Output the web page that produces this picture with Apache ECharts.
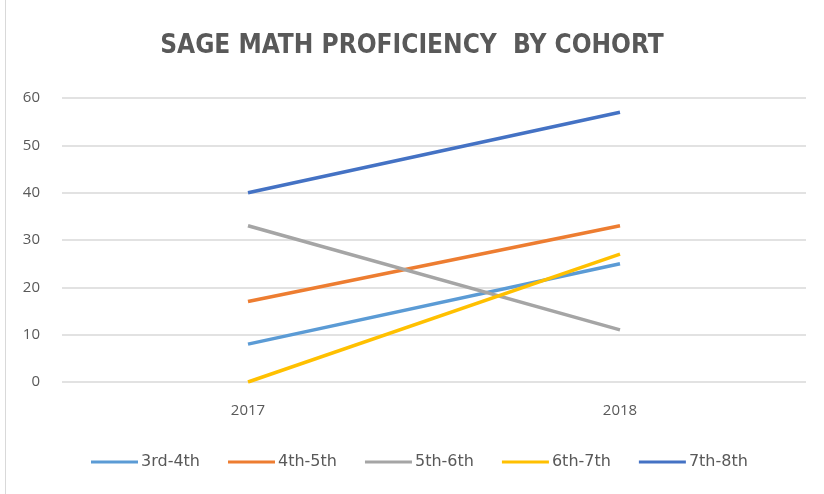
<!DOCTYPE html>
<html>
<head>
<meta charset="utf-8">
<script src="https://cdn.jsdelivr.net/npm/echarts@6/dist/echarts.min.js"></script>
<style>
  html, body { margin: 0; padding: 0; background: #fff; }
  #chart { width: 824px; height: 494px; }
</style>
</head>
<body>
<div id="chart"></div>
<script>
// Daten
const years = ['2017', '2018'];
const cohorts = ['3rd-4th', '4th-5th', '5th-6th', '6th-7th', '7th-8th'];
const grade3to4 = [8, 25];
const grade4to5 = [17, 33];
const grade5to6 = [33, 11];
const grade6to7 = [0, 27];
const grade7to8 = [40, 57];
const colors = ['#5B9BD5', '#ED7D31', '#A5A5A5', '#FFC000', '#4472C4'];

const seriesData = [grade3to4, grade4to5, grade5to6, grade6to7, grade7to8];

const myChart = echarts.init(document.getElementById('chart'));

const option = {
  animation: false,
  color: colors,
  title: {
    text: 'SAGE MATH PROFICIENCY  BY COHORT',
    left: 'center',
    top: 28,
    textStyle: {
      fontFamily: 'DejaVu Sans Condensed',
      fontWeight: 'bold',
      fontSize: 26,
      color: '#595959'
    }
  },
  grid: { left: 62, right: 18, top: 98, bottom: 112 },
  xAxis: {
    type: 'category',
    data: years,
    boundaryGap: true,
    axisLine: { show: false },
    axisTick: { show: false },
    axisLabel: { color: '#595959', fontSize: 15, margin: 21, fontFamily: 'Open Sans' }
  },
  yAxis: {
    type: 'value',
    min: 0,
    max: 60,
    interval: 10,
    axisLabel: { color: '#595959', fontSize: 15, margin: 22, fontFamily: 'Open Sans' },
    splitLine: { lineStyle: { color: '#d9d9d9', width: 1.5 } }
  },
  legend: {
    bottom: 24,
    left: 91,
    padding: 0,
    itemWidth: 47,
    itemHeight: 3,
    itemGap: 28,
    icon: 'rect',
    textStyle: { color: '#595959', fontSize: 16, fontFamily: 'DejaVu Sans', padding: [0, 0, 0, -2] },
    data: cohorts
  },
  series: cohorts.map((name, i) => ({
    name: name,
    type: 'line',
    data: seriesData[i],
    showSymbol: false,
    symbol: 'none',
    lineStyle: { width: 3.5 }
  })),
  graphic: [{
    type: 'line',
    shape: { x1: 5.5, y1: 0, x2: 5.5, y2: 494 },
    style: { stroke: '#d9d9d9', lineWidth: 1 }
  }]
};

myChart.setOption(option);
</script>
</body>
</html>
